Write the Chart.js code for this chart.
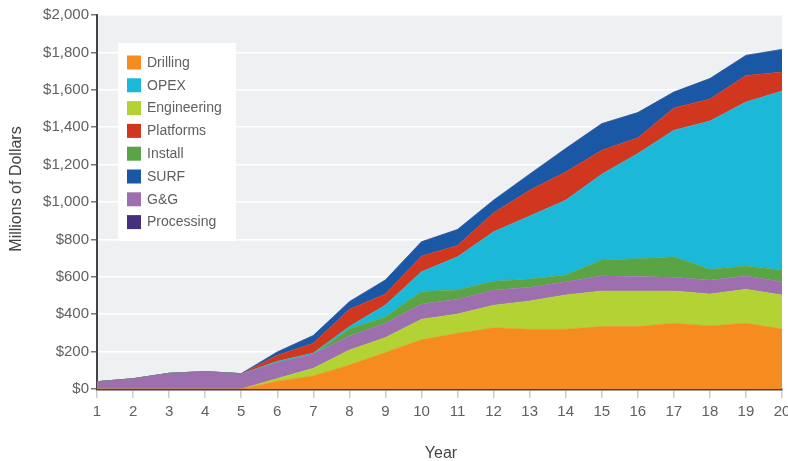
<!DOCTYPE html>
<html>
<head>
<meta charset="utf-8">
<script src="https://cdn.jsdelivr.net/npm/chart.js@4"></script>
<style>
  html, body { margin: 0; padding: 0; background: #ffffff; }
  #wrap { width: 788px; height: 461px; position: relative; }
  canvas { display: block; }
</style>
</head>
<body>
<div id="wrap"><canvas id="c" width="788" height="461"></canvas></div>
<script>
// ---- Data (Millions of Dollars) ----
const years = ['1','2','3','4','5','6','7','8','9','10','11','12','13','14','15','16','17','18','19','20'];
const drilling    = [0, 0, 0, 0, 0, 42, 70, 129, 195, 263, 298, 327, 320, 320, 334, 334, 352, 337, 352, 321];
const engineering = [0, 0, 0, 0, 0, 14, 41, 79, 80, 110, 103, 121, 151, 183, 190, 190, 172, 171, 181, 182];
const gg          = [39, 55, 84, 93, 82, 84, 76, 76, 77, 82, 79, 82, 73, 71, 82, 77, 73, 75, 71, 71];
const install     = [0, 0, 0, 0, 0, 0, 0, 37, 35, 67, 50, 46, 44, 36, 84, 96, 110, 57, 54, 62];
const opex        = [0, 0, 0, 0, 0, 8, 5, 13, 62, 105, 177, 265, 337, 400, 459, 562, 677, 793, 877, 957];
const platforms   = [0, 0, 0, 0, 0, 32, 53, 92, 59, 84, 61, 101, 138, 151, 128, 84, 119, 118, 142, 102];
const surf        = [0, 0, 0, 0, 0, 18, 41, 41, 75, 76, 85, 68, 86, 125, 142, 135, 85, 109, 107, 121];
const processing  = [0, 0, 0, 0, 0, 0, 0, 0, 0, 0, 0, 0, 0, 0, 0, 0, 0, 0, 0, 0];
const yTicks = [0, 200, 400, 600, 800, 1000, 1200, 1400, 1600, 1800, 2000];
const legendOrder = ['Drilling', 'OPEX', 'Engineering', 'Platforms', 'Install', 'SURF', 'G&G', 'Processing'];

const colors = {
  'Drilling': '#f68b1f',
  'Engineering': '#b3d334',
  'G&G': '#9e6fae',
  'Install': '#5aa445',
  'OPEX': '#1cb8d7',
  'Platforms': '#d1361f',
  'SURF': '#1a57a5',
  'Processing': '#46307e'
};

const stackOrder = [
  ['Drilling', drilling],
  ['Engineering', engineering],
  ['G&G', gg],
  ['Install', install],
  ['OPEX', opex],
  ['Platforms', platforms],
  ['SURF', surf],
  ['Processing', processing]
];

const datasets = stackOrder.map(([label, data], i) => ({
  label,
  data,
  fill: i === 0 ? 'origin' : '-1',
  backgroundColor: colors[label],
  borderColor: colors[label],
  borderWidth: 0.5,
  pointRadius: 0,
  pointHoverRadius: 0,
  tension: 0
}));

const FONT = "'Liberation Sans', Arial, sans-serif";
const TXT = '#606060';

const bgPlugin = {
  id: 'plotBg',
  beforeDraw(chart) {
    const { ctx, chartArea: a } = chart;
    ctx.save();
    ctx.fillStyle = '#eff0f2';
    ctx.fillRect(a.left, a.top, a.right - a.left, a.bottom - a.top);
    ctx.restore();
  }
};

const overlayPlugin = {
  id: 'overlay',
  afterDraw(chart) {
    const { ctx } = chart;
    ctx.save();
    // legend box
    ctx.fillStyle = '#ffffff';
    ctx.fillRect(118, 43, 118, 198);
    ctx.font = '14px ' + FONT;
    ctx.textBaseline = 'middle';
    ctx.textAlign = 'left';
    legendOrder.forEach((name, i) => {
      const y = 55.5 + i * 22.8;
      ctx.fillStyle = colors[name];
      ctx.fillRect(127, y, 14, 14);
      ctx.fillStyle = TXT;
      ctx.fillText(name, 147, y + 7.5);
    });
    // axis titles
    ctx.fillStyle = '#444';
    ctx.font = '16px ' + FONT;
    ctx.textAlign = 'center';
    ctx.fillText('Year', 441, 454);
    ctx.translate(17, 189);
    ctx.rotate(-Math.PI / 2);
    ctx.fillText('Millions of Dollars', 0, 0);
    ctx.restore();
  }
};

new Chart(document.getElementById('c'), {
  type: 'line',
  data: { labels: years, datasets },
  options: {
    responsive: false,
    animation: false,
    devicePixelRatio: 1,
    layout: { padding: { top: 15, right: 6, left: 0, bottom: 0 } },
    plugins: {
      legend: { display: false },
      tooltip: { enabled: false },
      filler: { propagate: false }
    },
    scales: {
      x: {
        offset: false,
        grid: { drawOnChartArea: false, drawTicks: true, tickLength: 9, tickColor: '#cccccc', lineWidth: 1.5 },
        border: { display: true, color: '#4a4038', width: 2.5 },
        ticks: { color: TXT, font: { family: FONT, size: 15 }, padding: 5, maxRotation: 0, autoSkip: false },
        afterFit(s) { s.height = 72; s.paddingLeft = 0; s.paddingRight = 0; }
      },
      y: {
        stacked: true,
        min: 0,
        max: 2000,
        afterBuildTicks(s) { s.ticks = yTicks.map(v => ({ value: v })); },
        grid: { color: '#ffffff', lineWidth: 1.5, drawTicks: true, tickLength: 6, tickColor: '#777777' },
        border: { display: true, color: '#444444', width: 2 },
        ticks: {
          color: TXT,
          font: { family: FONT, size: 15 },
          padding: 2,
          callback: v => '$' + Number(v).toLocaleString('en-US')
        },
        afterFit(s) { s.width = 97; s.paddingTop = 0; s.paddingBottom = 0; }
      }
    }
  },
  plugins: [bgPlugin, overlayPlugin]
});
</script>
</body>
</html>
